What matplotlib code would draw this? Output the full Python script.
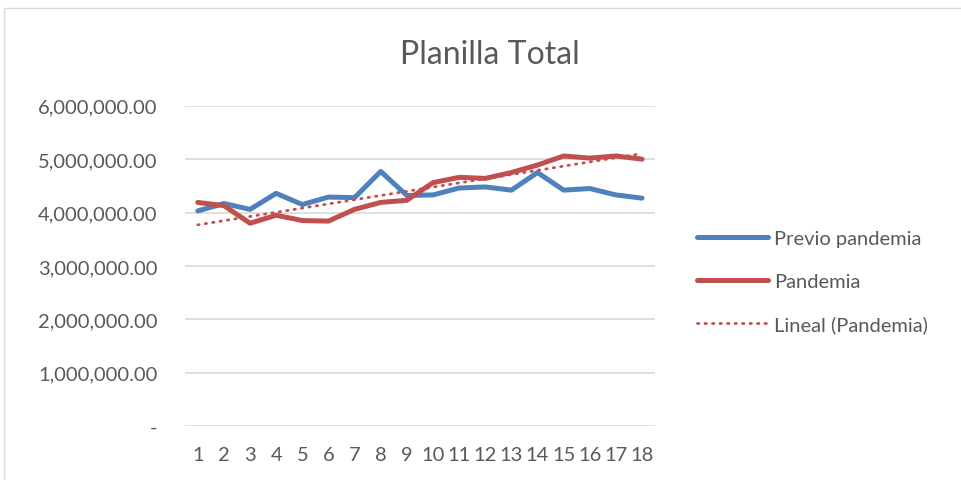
import matplotlib
matplotlib.use('Agg')
import matplotlib.pyplot as plt
import numpy as np
from matplotlib.ticker import FuncFormatter

# Data
months = list(range(1, 19))
previo_pandemia = [4.03e6, 4.17e6, 4.06e6, 4.36e6, 4.15e6, 4.29e6, 4.28e6, 4.77e6, 4.32e6,
                   4.33e6, 4.46e6, 4.48e6, 4.42e6, 4.75e6, 4.42e6, 4.45e6, 4.33e6, 4.27e6]
pandemia = [4.19e6, 4.13e6, 3.80e6, 3.95e6, 3.85e6, 3.84e6, 4.06e6, 4.19e6, 4.23e6,
            4.56e6, 4.66e6, 4.64e6, 4.75e6, 4.89e6, 5.06e6, 5.02e6, 5.06e6, 5.00e6]

BLUE = '#4F81BD'
RED = '#C0504D'
TEXT = '#595959'

plt.rcParams['font.family'] = ['Lato', 'DejaVu Sans']

fig = plt.figure(figsize=(9.62, 4.81), dpi=100)
ax = fig.add_axes([0.192, 0.112, 0.489, 0.666])

x = np.array(months)
ax.plot(x, previo_pandemia, color=BLUE, lw=3.6, solid_capstyle='round', solid_joinstyle='round',
        label='Previo pandemia', zorder=3)
ax.plot(x, pandemia, color=RED, lw=3.6, solid_capstyle='round', solid_joinstyle='round',
        label='Pandemia', zorder=3)

# linear trendline of the Pandemia series
coef = np.polyfit(x, pandemia, 1)
ax.plot(x, np.polyval(coef, x), color=RED, lw=2.0, linestyle=(0, (0.5, 2.2)),
        dash_capstyle='round', label='Lineal (Pandemia)', zorder=4)

ax.set_xlim(0.5, 18.5)
ax.set_ylim(0, 6e6)
ax.set_xticks(months)
ax.set_yticks(np.arange(0, 6.01e6, 1e6))
ax.yaxis.set_major_formatter(FuncFormatter(lambda v, p: '-' if v == 0 else f'{v:,.2f}'))
ax.tick_params(axis='both', length=0, labelsize=14.5, labelcolor=TEXT)
ax.tick_params(axis='y', pad=19.5)
ax.tick_params(axis='x', pad=14)
ax.grid(axis='y', color='#D9D9D9', lw=1.2)
ax.set_axisbelow(True)
for s in ax.spines.values():
    s.set_visible(False)

fig.text(0.509, 0.885, 'Planilla Total', ha='center', va='center', fontsize=23, color=TEXT)

fig.legend(loc='center left', bbox_to_anchor=(0.706, 0.412), frameon=False, fontsize=14.5,
           labelcolor=TEXT, handlelength=3.5, handletextpad=0.3, labelspacing=1.27)

# outer chart border
fig.patches.append(plt.Rectangle((4 / 962, -0.1), 1.2, 1 - 9 / 481 + 0.1, transform=fig.transFigure,
                                 fill=False, edgecolor='#D9D9D9', lw=1.0))

fig.savefig('out.png', dpi=100)
